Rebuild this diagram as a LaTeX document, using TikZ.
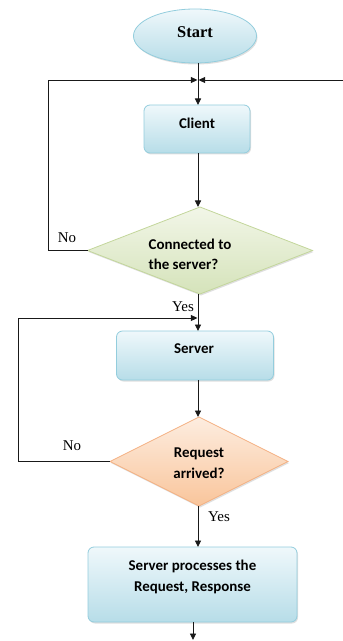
\documentclass[tikz,border=0pt]{standalone}
\usepackage{fontspec}
\setmainfont{Liberation Serif}
\newfontfamily\boxfont{Carlito}
\usetikzlibrary{shapes.geometric,arrows.meta,calc,shadows}
\definecolor{bluetop}{HTML}{EFF8FB}
\definecolor{bluebot}{HTML}{B7DDE8}
\definecolor{blueline}{HTML}{93CDDD}
\definecolor{greentop}{HTML}{F2F6E8}
\definecolor{greenbot}{HTML}{D5E3BA}
\definecolor{greenline}{HTML}{C3D69B}
\definecolor{orangetop}{HTML}{FDEDE0}
\definecolor{orangebot}{HTML}{F9C59B}
\definecolor{orangeline}{HTML}{F4B183}
\tikzset{
  x=1bp, y=-1bp,
  shp/.style={draw, line width=0.8bp, inner sep=0pt, outer sep=0pt,
    drop shadow={shadow xshift=1bp, shadow yshift=-1.5bp, opacity=0.25, fill=gray}},
  bluebox/.style={shp, rounded corners=6bp, draw=blueline, top color=bluetop, bottom color=bluebot},
  startnode/.style={shp, ellipse, draw=blueline, top color=bluetop, bottom color=bluebot},
  greendia/.style={shp, diamond, draw=greenline, top color=greentop, bottom color=greenbot},
  orangedia/.style={shp, diamond, draw=orangeline, top color=orangetop, bottom color=orangebot},
  boxtxt/.style={font=\boxfont\bfseries\fontsize{15}{20.5}\selectfont, inner sep=0pt},
  lbl/.style={font=\fontsize{15}{18}\selectfont, inner sep=0pt},
  conn/.style={line width=0.9bp, draw=black!90, -{Triangle[length=6.5bp,width=6bp]}},
}
\begin{document}
\begin{tikzpicture}
\useasboundingbox (0,0) rectangle (342,641);
% shapes
\node[startnode, minimum width=123bp, minimum height=54bp] (start) at (195,36) {};
\node[bluebox, minimum width=106bp, minimum height=48bp] (client) at (197,129) {};
\node[greendia, minimum width=225bp, minimum height=87bp, shape aspect=2.59] (d1) at (200,250.5) {};
\node[bluebox, minimum width=157bp, minimum height=49bp] (server) at (195,355.5) {};
\node[orangedia, minimum width=178bp, minimum height=89bp, shape aspect=2] (d2) at (199,461.5) {};
\node[bluebox, minimum width=209bp, minimum height=75bp] (proc) at (192.5,584.5) {};
% texts
\node[font=\bfseries\fontsize{16.5}{20}\selectfont, inner sep=0pt] (start-t) at (195,32) {Start};
\node[boxtxt] (client-t) at (197,123) {Client};
\node[boxtxt, align=left] (d1-t) at (190,254.5) {Connected to\\the server?};
\node[boxtxt] (server-t) at (194,349) {Server};
\node[boxtxt, align=center] (d2-t) at (199,463) {Request\\arrived?};
\node[boxtxt, align=center] (proc-t) at (192.5,577) {Server processes the\\Request, Response};
% labels
\node[lbl] (no1) at (67,238) {No};
\node[lbl] (yes1) at (183,307) {Yes};
\node[lbl] (no2) at (72,446) {No};
\node[lbl] (yes2) at (219,517) {Yes};
% junctions and loose ends
\coordinate (j1) at (198,80);
\coordinate (j2) at (198,318);
\coordinate (rin) at (345,80);
\coordinate (out) at (193,640);
\coordinate (l1) at (48,250.5);
\coordinate (l2) at (18,461.5);
% connectors
\draw[conn] (start.south -| j1) -- (client.north -| j1);
\draw[conn] (d1.west) -- (l1) |- ($(j1)+(-0.6,0)$);
\draw[conn] (rin) -- ($(j1)+(0.6,0)$);
\draw[conn] (client.south -| j1) -- (d1.north -| j1);
\draw[conn] (d1.south -| j1) -- (server.north -| j1);
\draw[conn] (d2.west) -- (l2) |- ($(j2)+(-0.6,0)$);
\draw[conn] (server.south -| j1) -- (d2.north -| j1);
\draw[conn] (d2.south -| j1) -- (proc.north -| j1);
\draw[conn] (proc.south -| out) -- (out);
\end{tikzpicture}
\end{document}
